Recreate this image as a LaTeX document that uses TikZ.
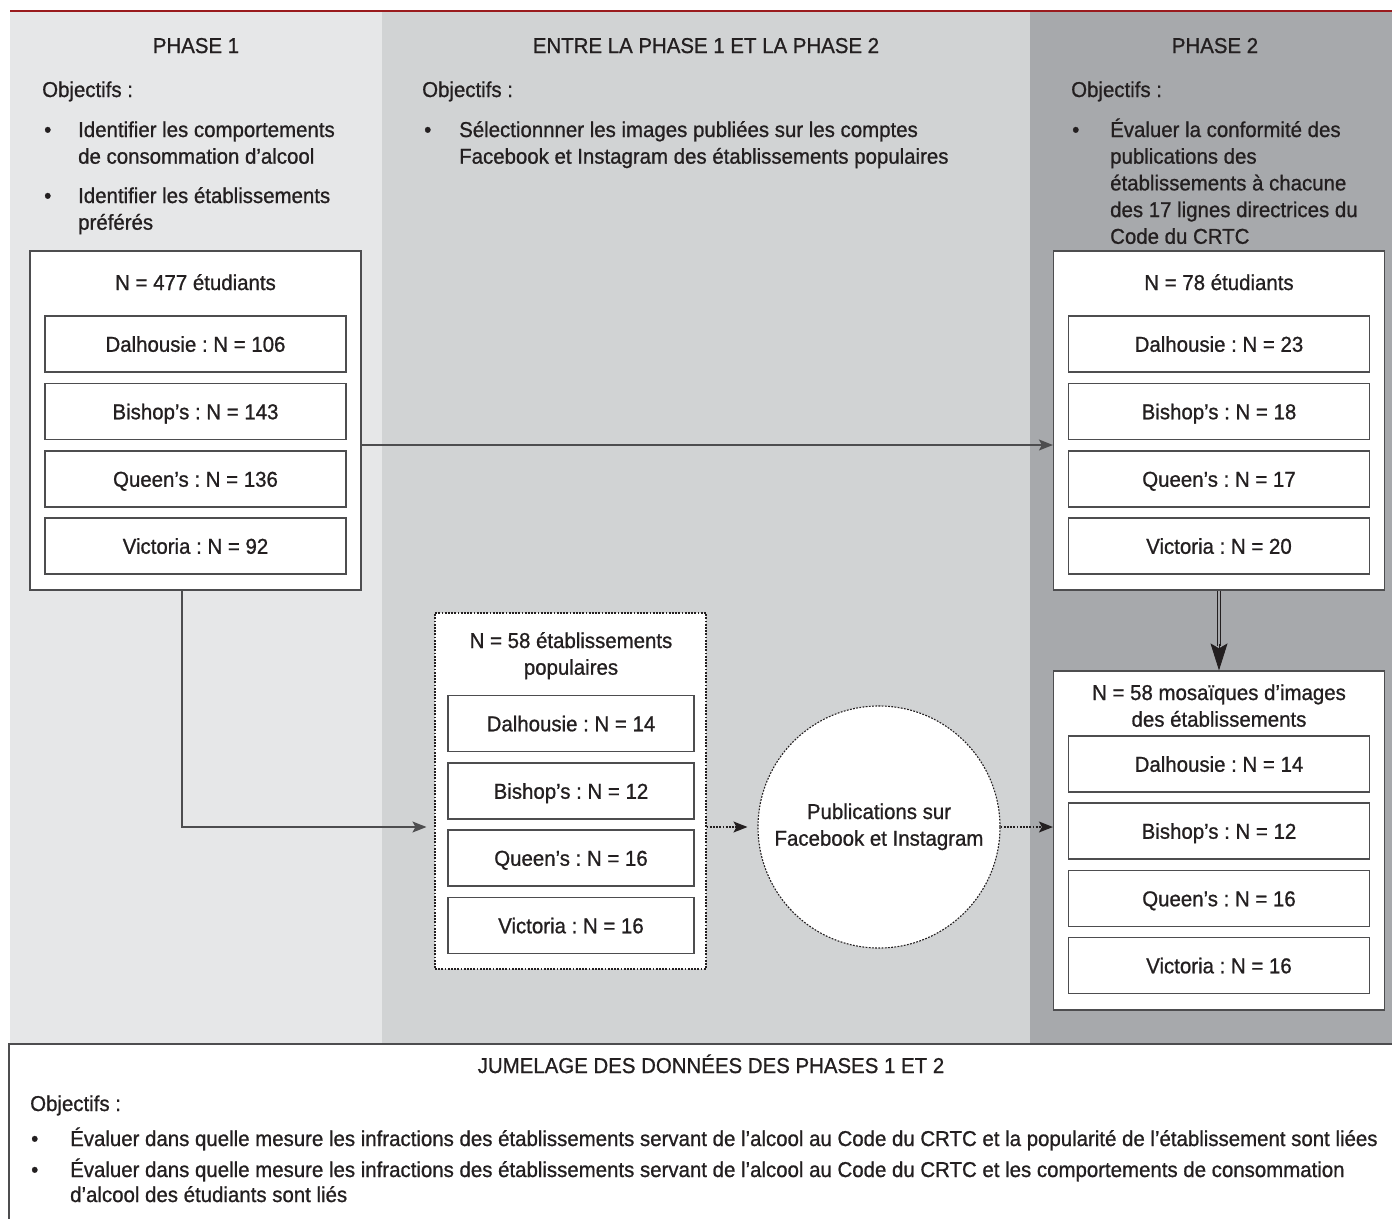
\documentclass[tikz,border=0pt]{standalone}
\usepackage{fontspec}
\setmainfont{Liberation Sans}[FakeStretch=0.95, FakeBold=0.9]
\usetikzlibrary{arrows.meta}

\definecolor{phaseone}{HTML}{E6E7E8}
\definecolor{between}{HTML}{D1D3D4}
\definecolor{phasetwo}{HTML}{A7A9AC}
\definecolor{rulered}{HTML}{9A1B1E}
\definecolor{boxline}{HTML}{4D4D4F}
\definecolor{inktext}{HTML}{231F20}

\newcommand{\txtlines}[2][l]{\begin{tabular}[t]{@{}#1@{}}#2\end{tabular}}
\frenchspacing

\begin{document}
\begin{tikzpicture}[x=1pt,y=-1pt]
        \tikzstyle{every node}=[font=\fontsize{21.5}{26.7}\selectfont, text=inktext, inner sep=0pt]
        \tikzstyle{outerbox}=[draw=boxline, line width=1.2pt, fill=white, minimum width=331pt, minimum height=339pt]
        \tikzstyle{unibox}=[draw=boxline, line width=1.2pt, fill=white, minimum width=301pt, minimum height=56pt, text height=15.5pt, text depth=0pt]
        \tikzstyle{popunibox}=[unibox, minimum width=246pt]
        \tikzstyle{dotline}=[dash pattern=on 1.8pt off 1.4pt]
        \tikzstyle{dottedbox}=[draw=inktext, line width=1.1pt, dotline, fill=white, minimum width=271pt, minimum height=356pt]
        \tikzstyle{circlenode}=[circle, draw=inktext, line width=1.1pt, dotline, fill=white, minimum size=242pt]
        \tikzstyle{flowarrow}=[draw=boxline, line width=1.2pt, -{Stealth[length=14pt,width=11pt,inset=3pt]}]
        \tikzstyle{dottedarrow}=[flowarrow, draw=inktext, dotline]
        \tikzstyle{doubleshaft}=[draw=inktext, line width=1.1pt, double=phasetwo, double distance=1.6pt, shorten >=24pt]
        \tikzstyle{bigtip}=[draw=inktext, line width=0.8pt, -{Stealth[length=27pt,width=17pt,inset=5pt]}]

        \useasboundingbox (0,0) rectangle (1392,1218);
        \fill[white] (0,0) rectangle (1392,1218);

        % background bands
        \fill[phaseone] (10,12) rectangle (382,1044);
        \fill[between] (382,12) rectangle (1030,1044);
        \fill[phasetwo] (1030,12) rectangle (1392,1044);
        \draw[rulered, line width=2.5pt] (10,11) -- (1392,11);
        \draw[boxline, line width=1.4pt] (9,1230) |- (1400,1044);

        % headings
        \node[anchor=base] (h1) at (196,53) {PHASE 1};
        \node[anchor=base] (h2) at (706,53) {ENTRE LA PHASE 1 ET LA PHASE 2};
        \node[anchor=base] (h3) at (1215,53) {PHASE 2};

        \node[anchor=base west] (obj1) at (42,97) {Objectifs :};
        \node[anchor=base west] (obj2) at (422,97) {Objectifs :};
        \node[anchor=base west] (obj3) at (1071,97) {Objectifs :};

        \node[anchor=base west] (p1d1) at (44,137) {•};
        \node[anchor=base west] (p1b1) at (78,137) {\txtlines{Identifier les comportements\\de consommation d’alcool}};
        \node[anchor=base west] (p1d2) at (44,203) {•};
        \node[anchor=base west] (p1b2) at (78,203) {\txtlines{Identifier les établissements\\préférés}};

        \node[anchor=base west] (midd1) at (424,137) {•};
        \node[anchor=base west] (midb1) at (459,137) {\txtlines{Sélectionnner les images publiées sur les comptes\\Facebook et Instagram des établissements populaires}};

        \node[anchor=base west] (p2d1) at (1072,137) {•};
        \node[anchor=base west] (p2b1) at (1110,137) {\txtlines{Évaluer la conformité des\\publications des\\établissements à chacune\\des 17 lignes directrices du\\Code du CRTC}};

        % phase 1 students
        \node[outerbox] (p1box) at (195.5,420.5) {};
        \node[anchor=base] (p1title) at (195.5,290) {N = 477 étudiants};
        \foreach \key/\uni/\yy in {dal/Dalhousie : N = 106/344, bis/Bishop’s : N = 143/411.5, que/Queen’s : N = 136/479, vic/Victoria : N = 92/546}
            \node[unibox] (p1\key) at (195.5,\yy) {\uni};

        % phase 2 students
        \node[outerbox] (p2box) at (1219,420.5) {};
        \node[anchor=base] (p2title) at (1219,290) {N = 78 étudiants};
        \foreach \key/\uni/\yy in {dal/Dalhousie : N = 23/344, bis/Bishop’s : N = 18/411.5, que/Queen’s : N = 17/479, vic/Victoria : N = 20/546}
            \node[unibox] (p2\key) at (1219,\yy) {\uni};

        % popular venues
        \node[dottedbox] (popbox) at (570.5,791) {};
        \node[anchor=base] (poptitle) at (571,648) {\txtlines[c]{N = 58 établissements\\populaires}};
        \foreach \key/\uni/\yy in {dal/Dalhousie : N = 14/723.5, bis/Bishop’s : N = 12/791, que/Queen’s : N = 16/858, vic/Victoria : N = 16/925.5}
            \node[popunibox] (pop\key) at (571,\yy) {\uni};

        \node[circlenode] (circ) at (879,827) {\txtlines[c]{Publications sur\\Facebook et Instagram}};

        % image mosaics
        \node[outerbox] (mosaic) at (1219,840.5) {};
        \node[anchor=base] (mostitle) at (1219,700) {\txtlines[c]{N = 58 mosaïques d’images\\des établissements}};
        \foreach \key/\uni/\yy in {dal/Dalhousie : N = 14/764, bis/Bishop’s : N = 12/831, que/Queen’s : N = 16/898.5, vic/Victoria : N = 16/965.5}
            \node[unibox] (mos\key) at (1219,\yy) {\uni};

        % connectors
        \draw[flowarrow] ([yshift=-24.5pt]p1box.east) -- ([yshift=-24.5pt]p2box.west);
        \draw[flowarrow, shorten >=8pt] ([xshift=-13.5pt]p1box.south) |- (popbox.west |- circ.center);
        \draw[dottedarrow, shorten >=10pt] (popbox.east |- circ.center) -- (circ.west);
        \draw[dottedarrow] (circ.east) -- (mosaic.west |- circ.center);
        \draw[doubleshaft] (p2box.south) -- (mosaic.north);
        \draw[bigtip] ([yshift=26pt]mosaic.north) -- (mosaic.north);

        % data linkage
        \node[anchor=base] (jtitle) at (711,1073) {JUMELAGE DES DONNÉES DES PHASES 1 ET 2};
        \node[anchor=base west] (jobj) at (30,1111) {Objectifs :};
        \node[anchor=base west] (jd1) at (31,1146) {•};
        \node[anchor=base west] (jb1) at (70,1146) {Évaluer dans quelle mesure les infractions des établissements servant de l’alcool au Code du CRTC et la popularité de l’établissement sont liées};
        \node[anchor=base west] (jd2) at (31,1177) {•};
        \node[anchor=base west, font=\fontsize{21.5}{25}\selectfont] (jb2) at (70,1177) {\txtlines{Évaluer dans quelle mesure les infractions des établissements servant de l’alcool au Code du CRTC et les comportements de consommation\\d’alcool des étudiants sont liés}};
\end{tikzpicture}
\end{document}
